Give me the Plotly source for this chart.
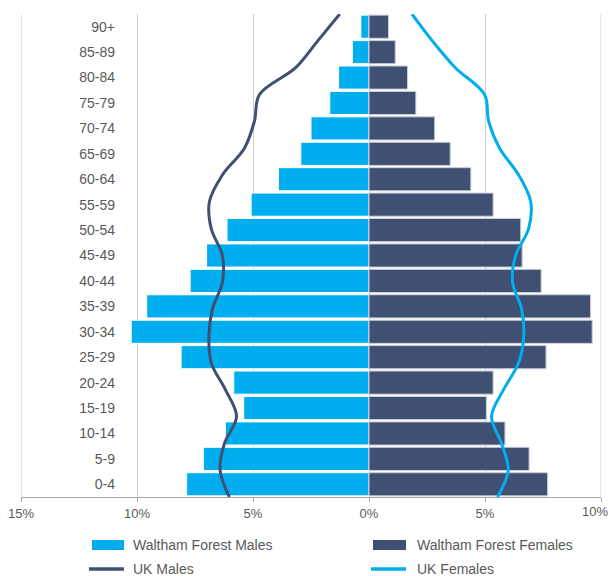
import plotly.graph_objects as go

# Age bands, youngest first
ages = ["0-4", "5-9", "10-14", "15-19", "20-24", "25-29", "30-34", "35-39",
        "40-44", "45-49", "50-54", "55-59", "60-64", "65-69", "70-74",
        "75-79", "80-84", "85-89", "90+"]

# Share of population (%) by age band
wf_males = [7.86, 7.14, 6.19, 5.40, 5.83, 8.10, 10.25, 9.58, 7.71, 7.00,
            6.12, 5.08, 3.90, 2.94, 2.50, 1.69, 1.31, 0.72, 0.35]
wf_females = [7.70, 6.90, 5.86, 5.06, 5.35, 7.63, 9.62, 9.55, 7.42, 6.60,
              6.54, 5.35, 4.39, 3.50, 2.83, 2.02, 1.66, 1.13, 0.84]
uk_males = [6.02, 6.42, 6.23, 5.71, 6.19, 6.80, 6.90, 6.75, 6.32, 6.32,
            6.80, 6.88, 6.32, 5.37, 4.94, 4.72, 3.16, 2.21, 1.26]
uk_females = [5.54, 6.00, 5.71, 5.28, 5.80, 6.45, 6.67, 6.58, 6.19, 6.32,
              6.88, 6.97, 6.45, 5.63, 5.16, 4.98, 3.72, 2.73, 1.85]

x_ticks = [-15, -10, -5, 0, 5, 10]
x_tick_text = ["15%", "10%", "5%", "0%", "5%", "10%"]

LIGHT_BLUE = "#00adee"
NAVY = "#3f5072"
TEXT = "#595959"
GRID = "#d0d0d0"
FONT = "Liberation Sans, Arial, sans-serif"

fig = go.Figure()

fig.add_trace(go.Bar(
    y=ages, x=[-v for v in wf_males], orientation="h",
    name="Waltham Forest Males", marker=dict(color=LIGHT_BLUE, line=dict(color="#ffffff", width=1)),
    showlegend=False,
))
fig.add_trace(go.Bar(
    y=ages, x=wf_females, orientation="h",
    name="Waltham Forest Females", marker=dict(color=NAVY, line=dict(color="#c9ced8", width=1)),
    showlegend=False,
))

# UK profile lines run edge to edge on their own vertical scale
line_pos = list(range(len(ages)))
fig.add_trace(go.Scatter(
    x=[-v for v in uk_males], y=line_pos, yaxis="y2", mode="lines",
    name="UK Males", line=dict(color=NAVY, width=3, shape="spline", smoothing=1.0),
    showlegend=False,
))
fig.add_trace(go.Scatter(
    x=uk_females, y=line_pos, yaxis="y2", mode="lines",
    name="UK Females", line=dict(color=LIGHT_BLUE, width=3, shape="spline", smoothing=1.0),
    showlegend=False,
))

# Gridlines at the two outer ends of the percentage scale
for xv in (x_ticks[0], x_ticks[-1]):
    fig.add_shape(type="line", xref="x", yref="paper", x0=xv, x1=xv, y0=0, y1=1,
                  line=dict(color=GRID, width=1), layer="below")

# The last tick label is pulled inside the right edge so it stays readable
axis_labels = x_tick_text[:-1] + [""]
fig.add_annotation(text=x_tick_text[-1], xref="paper", yref="paper",
                   x=1.0155, y=-0.031, xanchor="right", yanchor="middle",
                   showarrow=False, font=dict(size=13, color=TEXT))

fig.update_layout(
    width=611, height=576,
    margin=dict(l=21, r=10, t=14, b=79, autoexpand=False),
    paper_bgcolor="white", plot_bgcolor="white",
    barmode="overlay", bargap=0.09,
    font=dict(family=FONT, color=TEXT, size=14),
    xaxis=dict(
        range=[x_ticks[0], x_ticks[-1]], tickvals=x_ticks, ticktext=axis_labels,
        showgrid=True, gridcolor=GRID, gridwidth=1, zeroline=False,
        showline=True, linecolor="#a6a6a6", linewidth=1,
        ticks="outside", ticklen=4, tickcolor="#a6a6a6",
        tickfont=dict(size=13, color=TEXT),
        automargin=False, fixedrange=True,
    ),
    yaxis=dict(
        type="category", categoryorder="array", categoryarray=ages,
        range=[-0.5, len(ages) - 0.5],
        anchor="free", position=0.162, side="left",
        showgrid=False, zeroline=False, showline=False, ticks="",
        tickfont=dict(size=14, color=TEXT), automargin=False,
    ),
    yaxis2=dict(
        overlaying="y", range=[0, len(ages) - 1], visible=False,
    ),
    hovermode=False,
)

# Legend drawn below the axis in two columns
legend_items = [
    ("Waltham Forest Males", "rect", LIGHT_BLUE, 0.1224, 0.1776, -0.0994, 0.1897),
    ("Waltham Forest Females", "rect", NAVY, 0.6069, 0.6638, -0.0994, 0.6793),
    ("UK Males", "line", NAVY, 0.1172, 0.1776, -0.1491, 0.1897),
    ("UK Females", "line", LIGHT_BLUE, 0.6034, 0.6638, -0.1491, 0.6793),
]
for label, kind, color, x0, x1, yc, xt in legend_items:
    if kind == "rect":
        fig.add_shape(type="rect", xref="paper", yref="paper",
                      x0=x0, x1=x1, y0=yc - 0.0105, y1=yc + 0.0105,
                      fillcolor=color, line=dict(width=0))
    else:
        fig.add_shape(type="line", xref="paper", yref="paper",
                      x0=x0, x1=x1, y0=yc, y1=yc,
                      line=dict(color=color, width=3.5))
    fig.add_annotation(text=label, xref="paper", yref="paper", x=xt, y=yc,
                       xanchor="left", yanchor="middle", showarrow=False,
                       font=dict(size=14, color=TEXT))

fig.write_html("out.html")
